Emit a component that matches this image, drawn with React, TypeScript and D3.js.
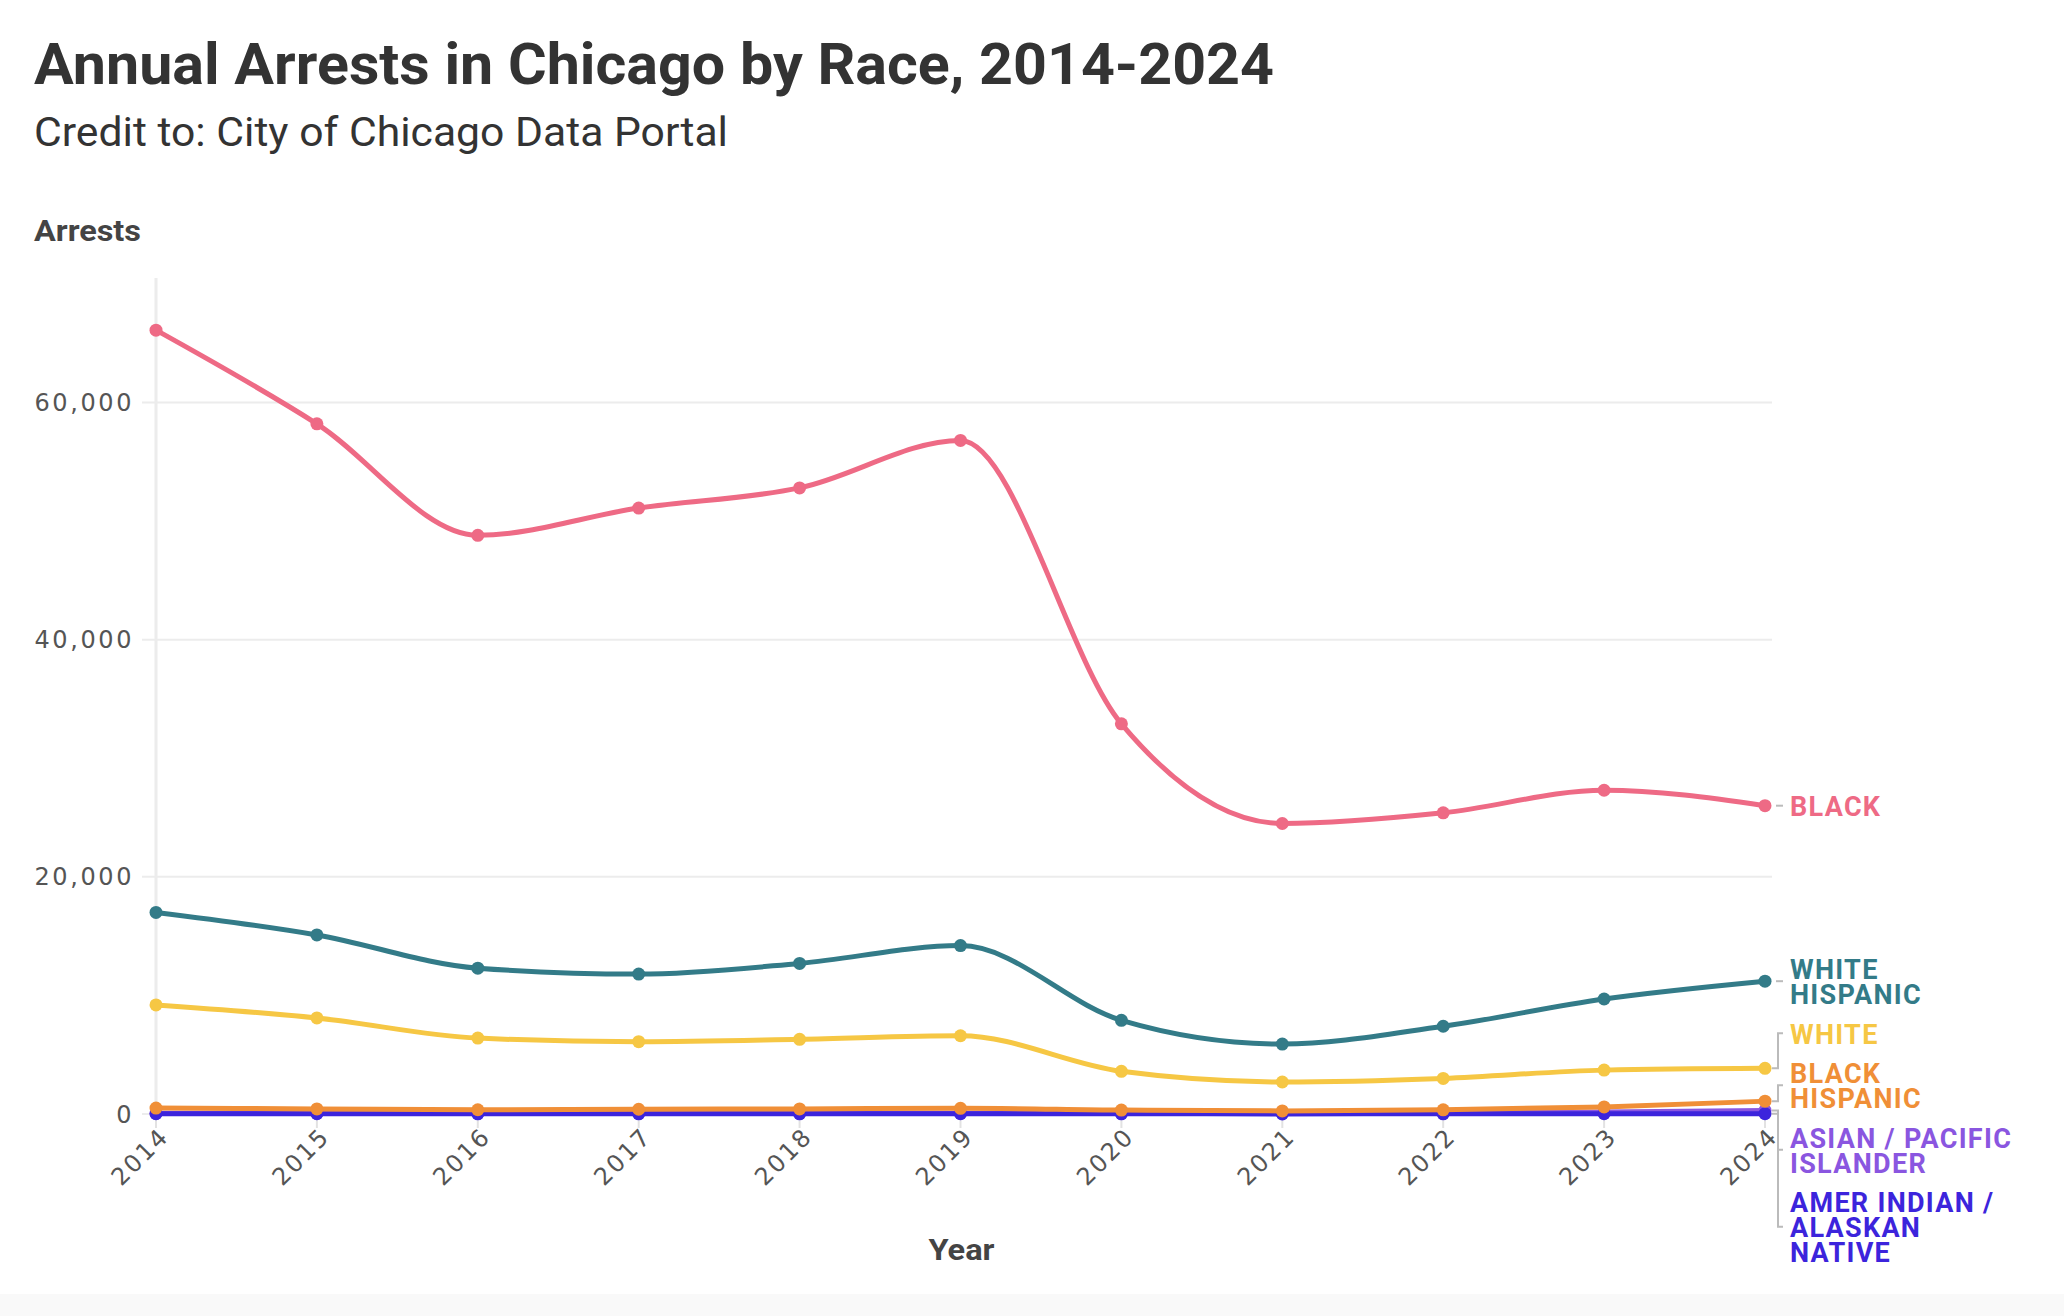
import React, { useEffect, useRef } from "react";
import * as d3 from "d3";

const years = [2014, 2015, 2016, 2017, 2018, 2019, 2020, 2021, 2022, 2023, 2024];
const yTicks = [0, 20000, 40000, 60000];

const blackVals = [66100, 58200, 48800, 51100, 52800, 56800, 32900, 24500, 25400, 27300, 26000];
const whiteHispanicVals = [17000, 15100, 12300, 11800, 12700, 14200, 7900, 5900, 7400, 9700, 11200];
const whiteVals = [9200, 8100, 6400, 6100, 6300, 6600, 3600, 2700, 3000, 3700, 3850];
const blackHispanicVals = [500, 430, 360, 400, 430, 480, 330, 260, 350, 600, 1080];
const asianVals = [60, 60, 50, 50, 50, 60, 40, 40, 70, 170, 300];
const amerIndianVals = [20, 20, 15, 15, 15, 20, 15, 10, 15, 20, 30];

const seriesNames = ["BLACK", "WHITE HISPANIC", "WHITE", "BLACK HISPANIC", "ASIAN / PACIFIC ISLANDER", "AMER INDIAN / ALASKAN NATIVE"];
const labelLines = [["BLACK"], ["WHITE", "HISPANIC"], ["WHITE"], ["BLACK", "HISPANIC"], ["ASIAN / PACIFIC", "ISLANDER"], ["AMER INDIAN /", "ALASKAN", "NATIVE"]];
const seriesColors = ["#ee6a85", "#337b88", "#f6c744", "#f08f37", "#8a56e0", "#3c24dc"];
const seriesValues = [blackVals, whiteHispanicVals, whiteVals, blackHispanicVals, asianVals, amerIndianVals];
// painting order: smallest series at the back, the big ones on top
const drawOrder = [4, 5, 3, 2, 1, 0];

const W = 2064;
const H = 1316;
const LINE_H = 25;
const GAP = 14.5;

// stack the end labels so they don't collide
function layoutLabels(items: { desired: number; h: number; idx: number }[]) {
  const sorted = [...items].sort((a, b) => a.desired - b.desired);
  const groups: { items: typeof sorted; top: number; h: number }[] = [];
  const groupHeight = (its: typeof sorted) => d3.sum(its, (d) => d.h) + GAP * (its.length - 1);
  const center = (g) => {
    let off = 0;
    const offs = g.items.map((it) => { const o = off + it.h / 2; off += it.h + GAP; return o; });
    g.h = groupHeight(g.items);
    g.top = d3.mean(g.items, (it, i) => it.desired - offs[i]);
  };
  for (const it of sorted) {
    const g = { items: [it], top: 0, h: 0 };
    center(g);
    groups.push(g);
    while (groups.length > 1) {
      const last = groups[groups.length - 1];
      const prev = groups[groups.length - 2];
      const minTop = prev.top + prev.h + GAP;
      if (last.top >= minTop) break;
      if (last.items.length === 1 || prev.items.length > 1) {
        prev.items = prev.items.concat(last.items);
        groups.pop();
        center(prev);
        // don't let a merged group climb over the one above it
        if (groups.length > 1) {
          const above = groups[groups.length - 2];
          const lim = above.top + above.h + GAP;
          if (prev.top < lim) { prev.top = lim; break; }
        }
      } else {
        last.top = minTop;
        break;
      }
    }
  }
  const out: Record<number, number> = {};
  groups.forEach((g) => {
    let y = g.top;
    g.items.forEach((it) => { out[it.idx] = y + it.h / 2; y += it.h + GAP; });
  });
  return out;
}

function Chart() {
  const ref = useRef<SVGSVGElement>(null);

  useEffect(() => {
    const svg = d3.select(ref.current);
    svg.selectAll("*").remove();

    const x = d3.scaleLinear().domain([2014, 2024]).range([156, 1765]);
    const y = d3.scaleLinear().domain([0, 70500]).range([1114, 278]);

    svg.append("rect").attr("width", W).attr("height", H).attr("fill", "#fff");
    svg.append("rect").attr("y", 1294).attr("width", W).attr("height", H - 1294).attr("fill", "#f9f9f9");

    // titles
    svg.append("text").attr("x", 34).attr("y", 84).text("Annual Arrests in Chicago by Race, 2014-2024")
      .attr("font-family", "Roboto, sans-serif").attr("font-weight", 700).attr("font-size", 57)
      .attr("fill", "#333").attr("textLength", 1240).attr("lengthAdjust", "spacingAndGlyphs");
    svg.append("text").attr("x", 34).attr("y", 146).text("Credit to: City of Chicago Data Portal")
      .attr("font-family", "Roboto, sans-serif").attr("font-weight", 400).attr("font-size", 40)
      .attr("fill", "#333").attr("textLength", 694).attr("lengthAdjust", "spacingAndGlyphs");
    svg.append("text").attr("x", 34).attr("y", 241).text("Arrests")
      .attr("font-family", "Roboto, sans-serif").attr("font-weight", 700).attr("font-size", 29)
      .attr("fill", "#444").attr("textLength", 107).attr("lengthAdjust", "spacingAndGlyphs");
    svg.append("text").attr("x", (x(2014) + x(2024)) / 2 + 1).attr("y", 1260).text("Year")
      .attr("text-anchor", "middle")
      .attr("font-family", "Roboto, sans-serif").attr("font-weight", 700).attr("font-size", 29)
      .attr("fill", "#444").attr("textLength", 66).attr("lengthAdjust", "spacingAndGlyphs");

    // grid
    svg.append("g").selectAll("line").data(yTicks).join("line")
      .attr("x1", 142).attr("x2", 1772).attr("y1", (d) => y(d)).attr("y2", (d) => y(d))
      .attr("stroke", "#ececec").attr("stroke-width", 2);
    svg.append("line").attr("x1", x(2014)).attr("x2", x(2014)).attr("y1", y.range()[1]).attr("y2", y(0))
      .attr("stroke", "#ececec").attr("stroke-width", 3);
    svg.append("g").selectAll("line").data(years).join("line")
      .attr("x1", (d) => x(d)).attr("x2", (d) => x(d)).attr("y1", y(0) + 3).attr("y2", y(0) + 14)
      .attr("stroke", "#e2e2e2").attr("stroke-width", 2);

    // tick labels
    const fmt = d3.format(",");
    svg.append("g").selectAll("text").data(yTicks).join("text")
      .attr("x", 134).attr("y", (d) => y(d)).attr("dy", "0.36em").attr("text-anchor", "end")
      .attr("font-family", "'DejaVu Sans', sans-serif").attr("font-size", 24).attr("letter-spacing", 2.6)
      .attr("fill", "#555").text((d) => fmt(d));
    svg.append("g").selectAll("text").data(years).join("text")
      .attr("transform", (d) => `translate(${x(d) + 8},${y(0) + 18}) rotate(-45)`)
      .attr("text-anchor", "end").attr("dy", "0.36em")
      .attr("font-family", "'DejaVu Sans', sans-serif").attr("font-size", 24).attr("letter-spacing", 2)
      .attr("fill", "#555").text((d) => String(d));

    const line = d3.line<number>().x((_, i) => x(years[i])).y((d) => y(d)).curve(d3.curveMonotoneX);

    drawOrder.forEach((s) => {
      const g = svg.append("g");
      g.append("path").attr("d", line(seriesValues[s])).attr("fill", "none")
        .attr("stroke", seriesColors[s]).attr("stroke-width", 5).attr("stroke-linejoin", "round");
      g.selectAll("circle").data(seriesValues[s]).join("circle")
        .attr("cx", (_, i) => x(years[i])).attr("cy", (d) => y(d)).attr("r", 6.5)
        .attr("fill", seriesColors[s]);
    });

    // end labels
    const last = years.length - 1;
    const items = seriesValues.map((vals, i) => ({
      desired: y(vals[last]), h: labelLines[i].length * LINE_H, idx: i,
    }));
    const pos = layoutLabels(items);
    const lx = 1790;
    seriesNames.forEach((_, i) => {
      const py = y(seriesValues[i][last]);
      const cy = pos[i];
      const lines = labelLines[i];
      if (Math.abs(cy - py) < 3) {
        svg.append("line").attr("x1", 1776).attr("x2", 1783).attr("y1", py).attr("y2", py)
          .attr("stroke", "#bbb").attr("stroke-width", 2);
      } else {
        svg.append("path").attr("d", `M1772,${py}H1778V${cy}H1783`).attr("fill", "none")
          .attr("stroke", "#bbb").attr("stroke-width", 2);
      }
      const t = svg.append("text").attr("font-family", "Roboto, sans-serif").attr("font-weight", 700)
        .attr("font-size", 27).attr("letter-spacing", 1.3).attr("fill", seriesColors[i]);
      const firstBase = cy - ((lines.length - 1) * LINE_H) / 2 + 10.5;
      lines.forEach((ln, k) => {
        t.append("tspan").attr("x", lx).attr("y", firstBase + k * LINE_H).text(ln);
      });
    });
  }, []);

  return <svg ref={ref} width={W} height={H} style={{ position: "absolute", left: 0, top: 0, display: "block" }} />;
}

export default function App() {
  return <Chart />;
}
